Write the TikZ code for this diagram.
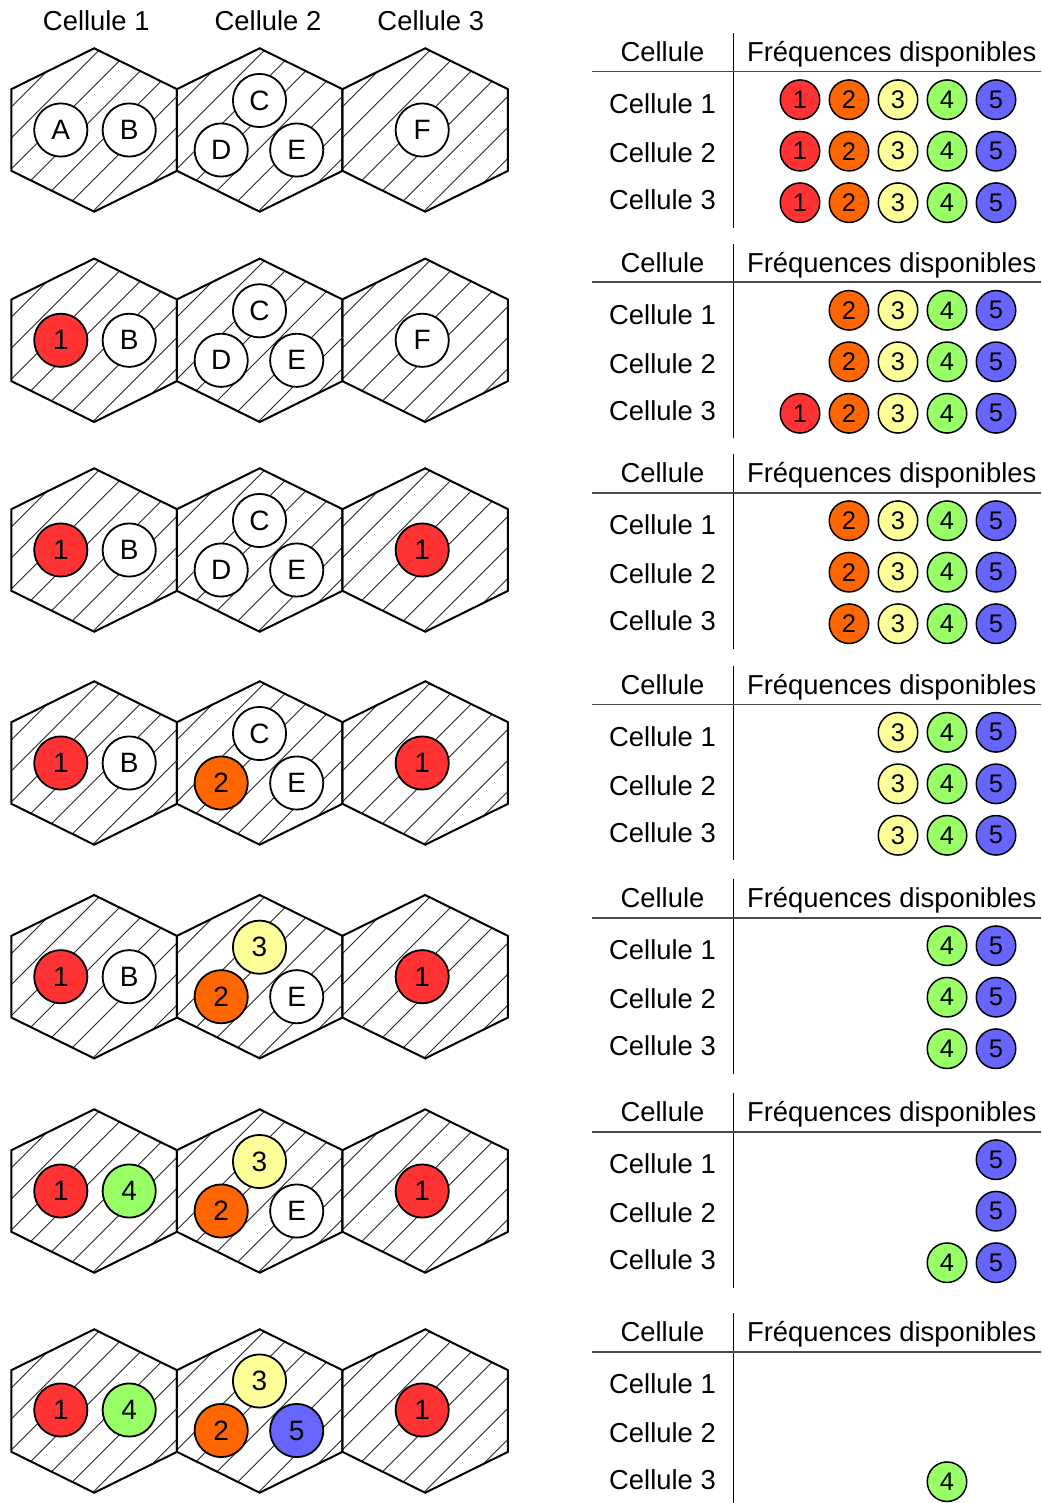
\documentclass[tikz,border=0pt]{standalone}
\usepackage{fontspec}
\setmainfont{Liberation Sans}
\definecolor{fc1}{HTML}{FF3333}
\definecolor{fc2}{HTML}{FF6600}
\definecolor{fc3}{HTML}{FFFF99}
\definecolor{fc4}{HTML}{99FF66}
\definecolor{fc5}{HTML}{6666FF}
\tikzset{
  hexline/.style={draw=black, line width=2pt, line join=miter},
  hatch/.style={draw=black!85, line width=0.9pt},
  hexcirc/.style={circle, draw=black, line width=1.8pt, minimum size=53.2pt, inner sep=0pt, font=\fontsize{28}{28}\selectfont},
  freqcirc/.style={circle, draw=black, line width=1.5pt, minimum size=39.5pt, inner sep=0pt, font=\fontsize{25.5}{25.5}\selectfont},
  lbl/.style={font=\fontsize{27.4}{30}\selectfont, inner sep=0pt, anchor=base},
  vline/.style={draw=black, line width=1.5pt},
  hline/.style={draw=black!70, line width=1.6pt},
}
\newcommand{\hexcell}[2]{%
  \begin{scope}[shift={(#1,#2)}]
    \begin{scope}
      \clip (0,-81.7) -- (82.75,-40.85) -- (82.75,40.85) -- (0,81.7) -- (-82.75,40.85) -- (-82.75,-40.85) -- cycle;
      \foreach \k in {-6,...,5} {\draw[hatch] ({118+31*\k},-100) -- ++(-200,200);}
    \end{scope}
    \draw[hexline] (0,-81.7) -- (82.75,-40.85) -- (82.75,40.85) -- (0,81.7) -- (-82.75,40.85) -- (-82.75,-40.85) -- cycle;
  \end{scope}}
\newcommand{\hexrow}[1]{\hexcell{94.2}{#1}\hexcell{259.7}{#1}\hexcell{425.2}{#1}}
\newcommand{\ccirc}[5]{\node[hexcirc, fill=#4] (#1) at (#2,#3) {#5};}
\newcommand{\freqtable}[2]{%
  \draw[vline] (733.3,{#2-38.5}) -- (733.3,{#2+156});
  \draw[hline] (592.3,#2) -- (1041,#2);
  \node[lbl] (#1h1) at (662.5,{#2-10}) {Cellule};
  \node[lbl] (#1h2) at (891.7,{#2-10}) {Fréquences disponibles};
  \node[lbl] (#1l1) at (662.5,{#2+42}) {Cellule 1};
  \node[lbl] (#1l2) at (662.5,{#2+90.7}) {Cellule 2};
  \node[lbl] (#1l3) at (662.5,{#2+138}) {Cellule 3};}
% table id, line index, y, list
\newcommand{\freqrow}[4]{%
  \foreach \f in {#4} {\node[freqcirc, fill=fc\f] (#1r#2f\f) at ({751+49*\f},#3) {\f};}}
\begin{document}
\begin{tikzpicture}[x=1pt,y=-1pt]
\fill[white] (0,0) rectangle (1041,1503);
\useasboundingbox (0,0) rectangle (1041,1503);
\begin{scope}
\clip (0,0) rectangle (1041,1503);
\node[lbl] (hd1) at (96.3,30.7) {Cellule 1};
\node[lbl] (hd2) at (268,30.7) {Cellule 2};
\node[lbl] (hd3) at (430.8,30.7) {Cellule 3};

% ---------- row 1
\hexrow{130}
\ccirc{r1A}{60.8}{130}{white}{A}
\ccirc{r1B}{129.2}{130}{white}{B}
\ccirc{r1C}{259.5}{100.5}{white}{C}
\ccirc{r1D}{221.2}{150}{white}{D}
\ccirc{r1E}{296.7}{150}{white}{E}
\ccirc{r1F}{422.2}{130}{white}{F}
\freqtable{t1}{71.7}
\freqrow{t1}{1}{99.7}{1,2,3,4,5}
\freqrow{t1}{2}{151.2}{1,2,3,4,5}
\freqrow{t1}{3}{202.7}{1,2,3,4,5}

% ---------- row 2
\hexrow{340.3}
\ccirc{r2A}{60.8}{340.3}{fc1}{1}
\ccirc{r2B}{129.2}{340.3}{white}{B}
\ccirc{r2C}{259.5}{310.8}{white}{C}
\ccirc{r2D}{221.2}{360.3}{white}{D}
\ccirc{r2E}{296.7}{360.3}{white}{E}
\ccirc{r2F}{422.2}{340.3}{white}{F}
\freqtable{t2}{282.3}
\freqrow{t2}{1}{310.3}{2,3,4,5}
\freqrow{t2}{2}{361.8}{2,3,4,5}
\freqrow{t2}{3}{413.3}{1,2,3,4,5}

% ---------- row 3
\hexrow{550}
\ccirc{r3A}{60.8}{550}{fc1}{1}
\ccirc{r3B}{129.2}{550}{white}{B}
\ccirc{r3C}{259.5}{520.5}{white}{C}
\ccirc{r3D}{221.2}{570}{white}{D}
\ccirc{r3E}{296.7}{570}{white}{E}
\ccirc{r3F}{422.2}{550}{fc1}{1}
\freqtable{t3}{492.7}
\freqrow{t3}{1}{520.7}{2,3,4,5}
\freqrow{t3}{2}{572.2}{2,3,4,5}
\freqrow{t3}{3}{623.7}{2,3,4,5}

% ---------- row 4
\hexrow{763}
\ccirc{r4A}{60.8}{763}{fc1}{1}
\ccirc{r4B}{129.2}{763}{white}{B}
\ccirc{r4C}{259.5}{733.5}{white}{C}
\ccirc{r4D}{221.2}{783}{fc2}{2}
\ccirc{r4E}{296.7}{783}{white}{E}
\ccirc{r4F}{422.2}{763}{fc1}{1}
\freqtable{t4}{704.3}
\freqrow{t4}{1}{732.3}{3,4,5}
\freqrow{t4}{2}{783.8}{3,4,5}
\freqrow{t4}{3}{835.3}{3,4,5}

% ---------- row 5
\hexrow{976.7}
\ccirc{r5A}{60.8}{976.7}{fc1}{1}
\ccirc{r5B}{129.2}{976.7}{white}{B}
\ccirc{r5C}{259.5}{947.2}{fc3}{3}
\ccirc{r5D}{221.2}{996.7}{fc2}{2}
\ccirc{r5E}{296.7}{996.7}{white}{E}
\ccirc{r5F}{422.2}{976.7}{fc1}{1}
\freqtable{t5}{917.7}
\freqrow{t5}{1}{945.7}{4,5}
\freqrow{t5}{2}{997.2}{4,5}
\freqrow{t5}{3}{1048.7}{4,5}

% ---------- row 6
\hexrow{1191}
\ccirc{r6A}{60.8}{1191}{fc1}{1}
\ccirc{r6B}{129.2}{1191}{fc4}{4}
\ccirc{r6C}{259.5}{1161.5}{fc3}{3}
\ccirc{r6D}{221.2}{1211}{fc2}{2}
\ccirc{r6E}{296.7}{1211}{white}{E}
\ccirc{r6F}{422.2}{1191}{fc1}{1}
\freqtable{t6}{1131.7}
\freqrow{t6}{1}{1159.7}{5}
\freqrow{t6}{2}{1211.2}{5}
\freqrow{t6}{3}{1262.7}{4,5}

% ---------- row 7
\hexrow{1411}
\ccirc{r7A}{60.8}{1410}{fc1}{1}
\ccirc{r7B}{129.2}{1410}{fc4}{4}
\ccirc{r7C}{259.5}{1381}{fc3}{3}
\ccirc{r7D}{221.2}{1430.5}{fc2}{2}
\ccirc{r7E}{296.7}{1430.5}{fc5}{5}
\ccirc{r7F}{422.2}{1410}{fc1}{1}
\freqtable{t7}{1351.7}
\freqrow{t7}{3}{1481.7}{4}
\end{scope}
\end{tikzpicture}
\end{document}
